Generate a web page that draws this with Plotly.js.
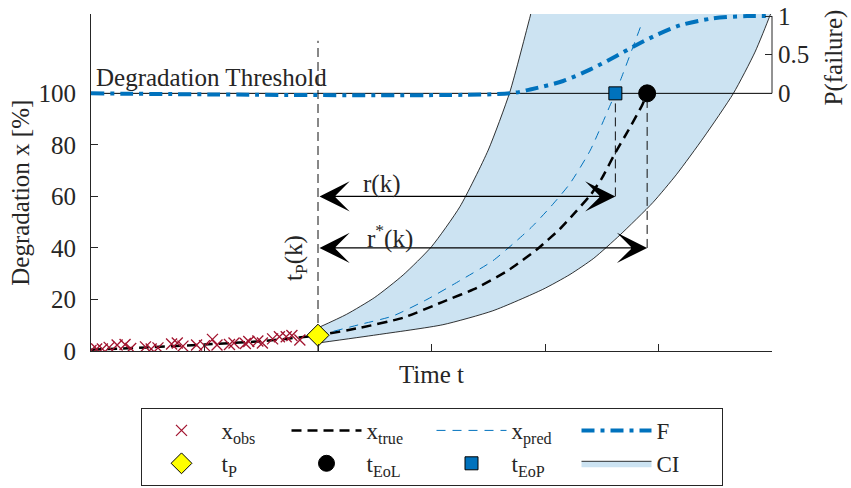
<!DOCTYPE html>
<html><head><meta charset="utf-8">
<script src="https://cdn.plot.ly/plotly-3.0.1.min.js"></script>
<style>html,body{margin:0;padding:0;background:#fff}#chart{width:851px;height:488px}</style>
</head><body><div id="chart"></div>
<script>
// ---- data ----
const obsT = [0.00, 0.05, 0.10, 0.16, 0.23, 0.30, 0.35, 0.48, 0.53, 0.59, 0.71, 0.76, 0.81, 0.93, 1.00, 1.07, 1.11, 1.22, 1.26, 1.36, 1.39, 1.47, 1.51, 1.60, 1.66, 1.72, 1.77, 1.84];
const obsX = [0.2, 0.8, 0.8, 1.4, 2.3, 2.5, 1.0, 1.6, 0.8, 1.2, 2.7, 3.1, 1.9, 2.3, 2.1, 4.5, 2.3, 2.5, 3.1, 2.9, 3.7, 3.9, 3.1, 4.7, 5.5, 5.5, 6.0, 4.3];

const trueT = [0, 0.5, 1, 1.5, 2, 2.37, 2.75, 3.1, 3.4, 3.69, 3.93, 4.13, 4.27, 4.4, 4.5, 4.62, 4.73, 4.86, 4.9];
const trueX = [0.5, 1.4, 2.5, 3.8, 6.1, 9, 12.9, 19.1, 24.5, 31.7, 39.5, 47.3, 54, 60.5, 67, 77, 85.3, 95.8, 100];

const predT = [2, 2.37, 2.66, 2.96, 3.25, 3.54, 3.75, 3.88, 4.05, 4.22, 4.4, 4.57, 4.62, 4.69, 4.86];
const predX = [6.1, 10.3, 13.6, 20, 27.3, 35, 42.8, 48, 56, 65, 78, 95, 100, 108, 128];

const ciUpperT = [2, 2.25, 2.5, 2.75, 3.0, 3.25, 3.5, 3.69, 3.87, 3.93];
const ciUpperX = [9, 14.2, 20.8, 29.5, 40.5, 56, 78, 100.5, 130, 140];
const ciLowerT = [2, 2.52, 3.10, 3.54, 3.98, 4.22, 4.43, 4.66, 4.95, 5.16, 5.4, 5.66, 5.85, 5.98, 6.04];
const ciLowerX = [3.1, 6.3, 10.2, 15.6, 23.9, 29.7, 36, 45, 57.6, 68.6, 83, 100, 116, 130, 138];

const failT = [0, 3.69, 3.87, 4.16, 4.40, 4.60, 4.81, 4.99, 5.19, 5.48, 5.78, 6.0];
const failP = [0, 0, 0.05, 0.16, 0.31, 0.46, 0.63, 0.76, 0.88, 0.97, 1.0, 1.0];

const threshold = 100;
const tP = 2, xAtP = 6.1;
const tEoP = 4.62, tEoL = 4.9;
const rLevel = 60, rStarLevel = 40;
const tPLineTop = 120.4;
const timeRange = [0, 6];
const timeTicks = [0, 1, 2, 3, 4, 5, 6];
const yTicks = [0, 20, 40, 60, 80, 100];
const pTicks = [0, 0.5, 1];

// ---- styling ----
const FONT = 'Liberation Serif, Times New Roman, serif';
const INK = '#262626';
const BLUE = '#0072BD';
const Y_RANGE = [0, 130.8];
const P_RANGE = [-0.1, (Y_RANGE[1] - threshold) / 30];
const P_DOMAIN = [(threshold - 0.1 * 30) / Y_RANGE[1], 1];

const ciT = ciUpperT.concat(ciLowerT.slice().reverse());
const ciX = ciUpperX.concat(ciLowerX.slice().reverse());

const traces = [
  {x: ciT, y: ciX, mode: 'lines', fill: 'toself', fillcolor: 'rgb(204,227,242)',
   line: {color: '#000', width: 0.8, shape: 'spline', smoothing: 0.6}, name: 'CI', legendrank: 8, hoverinfo: 'skip'},
  {x: timeRange, y: [threshold, threshold], mode: 'lines', line: {color: '#000', width: 1}, showlegend: false},
  {x: [tP, tP], y: [0, tPLineTop], mode: 'lines', line: {color: '#111', width: 1, dash: '9px,5px'}, showlegend: false},
  {x: [tEoP, tEoP], y: [rLevel, threshold], mode: 'lines', line: {color: '#111', width: 1, dash: '9px,5px'}, showlegend: false},
  {x: [tEoL, tEoL], y: [rStarLevel, threshold], mode: 'lines', line: {color: '#111', width: 1, dash: '9px,5px'}, showlegend: false},
  {x: trueT, y: trueX, mode: 'lines', line: {color: '#000', width: 2.5, dash: '10px,6px', shape: 'spline', smoothing: 0.5},
   name: 'x<sub>true</sub>', legendrank: 2},
  {x: predT, y: predX, mode: 'lines', line: {color: BLUE, width: 1, dash: '9px,7px', shape: 'spline', smoothing: 0.6},
   name: 'x<sub>pred</sub>', legendrank: 3},
  {x: obsT, y: obsX, mode: 'markers', marker: {symbol: 'x-thin', size: 11, line: {width: 1.3, color: '#A2142F'}, color: '#A2142F'},
   name: 'x<sub>obs</sub>', legendrank: 1},
  {x: [tP], y: [xAtP], mode: 'markers', marker: {symbol: 'diamond', size: 17, color: '#FFFF00', line: {color: '#000', width: 1}},
   name: 't<sub>P</sub>', legendrank: 5},
  {x: [tEoL], y: [threshold], mode: 'markers', marker: {symbol: 'circle', size: 17, color: '#000', line: {color: '#000', width: 1}},
   name: 't<sub>EoL</sub>', legendrank: 6},
  {x: [tEoP], y: [threshold], mode: 'markers', marker: {symbol: 'square', size: 13, color: BLUE, line: {color: '#000', width: 1}},
   name: 't<sub>EoP</sub>', legendrank: 7},
  {x: failT, y: failP, yaxis: 'y2', mode: 'lines', line: {color: BLUE, width: 4, dash: '13px,6px,4px,6px', shape: 'spline', smoothing: 0.8},
   name: 'F', legendrank: 4}
];

const txt = (size) => ({family: FONT, size: size, color: INK});

const arrowCommon = {xref: 'x', yref: 'y', axref: 'x', ayref: 'y', text: '', showarrow: true,
  arrowhead: 3, startarrowhead: 3, arrowside: 'end+start', arrowsize: 4.2, startarrowsize: 4.2,
  arrowwidth: 1.2, arrowcolor: '#000', standoff: 0, startstandoff: 0};

const layout = {
  width: 851, height: 488,
  margin: {l: 91, r: 79, t: 14, b: 137, autoexpand: false},
  paper_bgcolor: '#fff', plot_bgcolor: 'rgba(0,0,0,0)',
  font: txt(25),
  showlegend: true,
  xaxis: {range: timeRange, tickvals: timeTicks, showticklabels: false, ticks: 'inside', ticklen: 7,
          tickcolor: INK, showline: true, linecolor: INK, linewidth: 1, showgrid: false, zeroline: false,
          title: {text: 'Time t', font: txt(25), standoff: 14}},
  yaxis: {range: Y_RANGE, tickvals: yTicks, ticks: 'inside', ticklen: 7, tickcolor: INK,
          showline: true, linecolor: INK, linewidth: 1, showgrid: false, zeroline: false,
          tickfont: txt(25), ticklabelstandoff: 9},
  yaxis2: {domain: P_DOMAIN, range: P_RANGE, anchor: 'x', side: 'right', tickvals: pTicks,
           ticks: 'inside', ticklen: 7, tickcolor: INK, showline: false, showgrid: false, zeroline: false,
           tickfont: txt(25), ticklabelstandoff: 5,
           title: {text: 'P(failure)', font: txt(25), standoff: 16}},
  legend: {orientation: 'h', x: 0.5, xanchor: 'center', y: -0.169, yanchor: 'top',
           bordercolor: INK, borderwidth: 1, bgcolor: '#fff', font: txt(23),
           itemwidth: 70, entrywidth: 60, entrywidthmode: 'pixels', traceorder: 'normal', tracegroupgap: 0},
  shapes: [
    {type: 'line', xref: 'paper', x0: 1, x1: 1, yref: 'y2 domain',
     y0: (0 - P_RANGE[0]) / (P_RANGE[1] - P_RANGE[0]), y1: (1 - P_RANGE[0]) / (P_RANGE[1] - P_RANGE[0]),
     line: {color: INK, width: 1}}
  ],
  annotations: [
    Object.assign({x: tEoP, y: rLevel, ax: tP, ay: rLevel}, arrowCommon),
    Object.assign({x: tEoL, y: rStarLevel, ax: tP, ay: rStarLevel}, arrowCommon),
    {x: 2.56, y: 65, xref: 'x', yref: 'y', text: 'r(k)', showarrow: false, font: txt(25)},
    {x: 2.63, y: 44.5, xref: 'x', yref: 'y', text: 'r<sup>*</sup>(k)', showarrow: false, font: txt(25)},
    {x: 1.80, y: 36.2, xref: 'x', yref: 'y', text: 't<sub>P</sub>(k)', textangle: -90, showarrow: false, font: txt(25)},
    {x: 0.03, y: 106, xref: 'x', yref: 'y', xanchor: 'left', text: 'Degradation Threshold', showarrow: false, font: txt(25)},
    {x: -0.104, y: 61.5, xref: 'paper', yref: 'y', xanchor: 'center', yanchor: 'middle',
     text: 'Degradation x [%]', textangle: -90, showarrow: false, font: txt(25)}
  ]
};

Plotly.newPlot('chart', traces, layout, {staticPlot: true, displayModeBar: false});
</script>
</body></html>
